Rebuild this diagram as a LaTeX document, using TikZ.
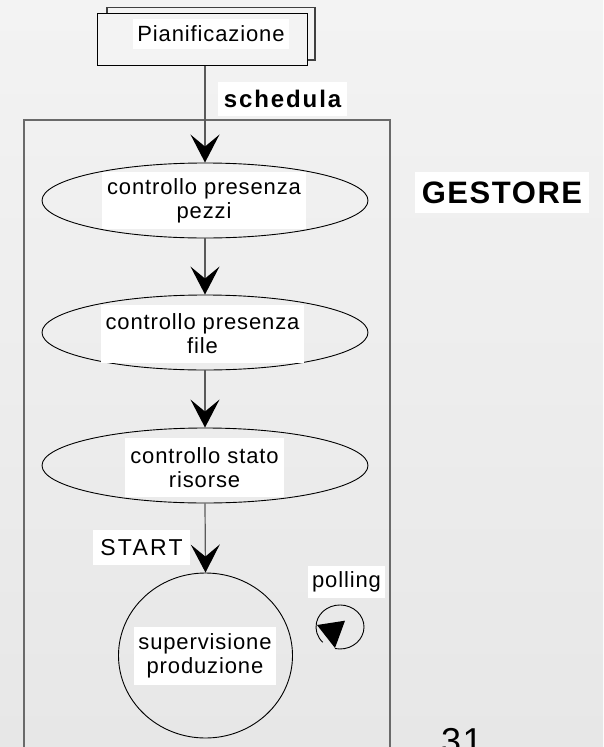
\documentclass[tikz,border=0pt]{standalone}
\usepackage{fontspec}
\setmainfont{Liberation Sans}[LetterSpace=4]
\usetikzlibrary{arrows.meta,shapes.geometric}

\definecolor{bgtop}{HTML}{F3F3F3}
\definecolor{bgbot}{HTML}{E7E7E7}
\definecolor{wirecol}{HTML}{5A5A5A}
\definecolor{framecol}{HTML}{6A6A6A}

\begin{document}
\begin{tikzpicture}[x=1pt,y=1pt,
  lbl/.style={fill=white, inner sep=0pt, align=center,
    font=\fontsize{22}{24}\selectfont},
  oval/.style={ellipse, draw=black, line width=0.9pt, inner sep=0pt},
  flow/.style={draw=wirecol, line width=1.2pt,
    -{Stealth[length=28pt,width=29pt,inset=12pt,black]}}
]
\useasboundingbox (0,0) rectangle (603,-747);
\shade[top color=bgtop, bottom color=bgbot] (0,0) rectangle (603,-747);

% frame of the manager
\draw[framecol, line width=1.6pt] (24,-760) |- (390,-120) -- (390,-760);

% planning box (stacked sheets)
\draw[black!75, line width=1.2pt, fill=bgtop] (107,-7.3) rectangle (315,-60);
\node[draw=black, line width=1pt, fill=bgtop, minimum width=210pt,
      minimum height=52pt, inner sep=0pt] (plan) at (202,-39) {};
\node[lbl, minimum width=156pt, minimum height=30pt] (plantxt) at (211,-34) {Pianificazione};

% process states
\node[oval, minimum width=326pt, minimum height=75pt] (e1) at (205,-200.5) {};
\node[oval, minimum width=326pt, minimum height=75pt] (e2) at (205,-332.5) {};
\node[oval, minimum width=326pt, minimum height=75pt] (e3) at (205,-465.5) {};
\node[oval, minimum width=174pt, minimum height=165pt] (sup) at (205.5,-655.5) {};

\node[lbl, minimum width=204pt, minimum height=57pt] (t1) at (204,-200.5) {controllo presenza\\pezzi};
\node[lbl, minimum width=203pt, minimum height=58pt] (t2) at (202.5,-334) {controllo presenza\\file};
\node[lbl, minimum width=159pt, minimum height=59pt] (t3) at (204.5,-467.5) {controllo stato\\risorse};
\node[lbl, minimum width=142pt, minimum height=58pt] (t4) at (205,-656) {supervisione\\produzione};

% transitions
\draw[flow] (e1.north |- plan.south) -- (e1.north);
\draw[flow] (e1.south) -- (e2.north);
\draw[flow] (e2.south) -- (e3.north);
\draw[flow] (e3.south) -- (sup.north);

% transition labels
\node[lbl, minimum width=129pt, minimum height=34pt,
      font=\bfseries\fontsize{24}{26}\selectfont\addfontfeature{LetterSpace=8}] (sched) at (282.5,-99) {schedula};
\node[lbl, minimum width=97pt, minimum height=35pt,
      font=\fontsize{23}{26}\selectfont\addfontfeature{LetterSpace=10}] (start) at (141.5,-547.5) {START};
\node[lbl, minimum width=77pt, minimum height=32pt] (poll) at (346.5,-582) {polling};

% polling loop
\coordinate (loopc) at (340,-627);
\draw[black, line width=0.9pt] (335,-648.5) arc[start angle=-102, end angle=224, x radius=24pt, y radius=22pt];
\fill[black] (317,-625) -- (345,-620.7) -- (335,-648) -- cycle;

% title and page number
\node[lbl, minimum width=174pt, minimum height=41pt,
      font=\bfseries\fontsize{31}{34}\selectfont\addfontfeature{LetterSpace=5}] (gest) at (502,-192.5) {GESTORE};
\node[anchor=base west, inner sep=0pt, font=\fontsize{36}{40}\selectfont] (pg) at (441,-753) {31};
\end{tikzpicture}
\end{document}
